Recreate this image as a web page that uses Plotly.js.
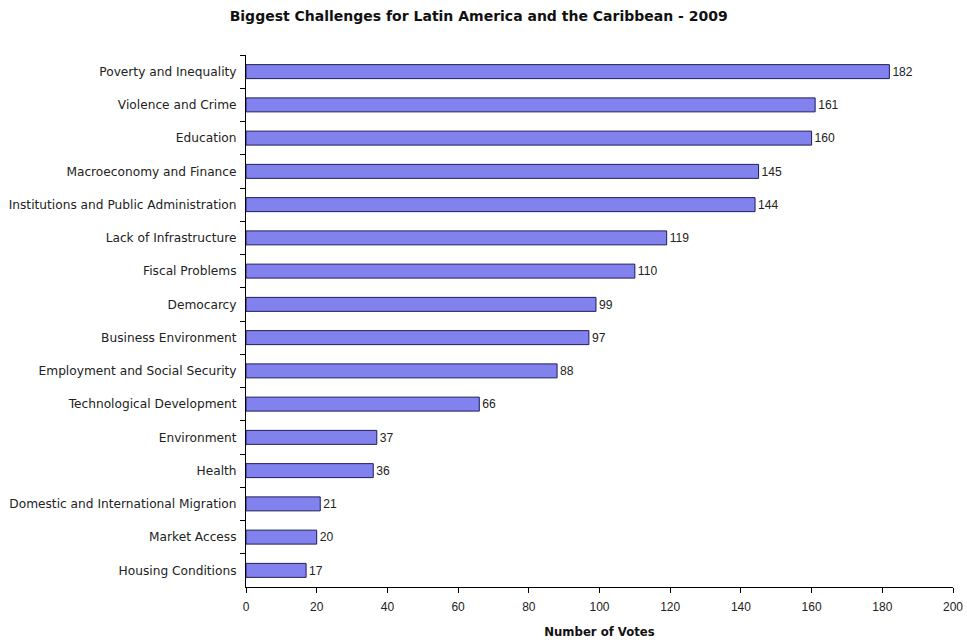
<!DOCTYPE html>
<html>
<head>
<meta charset="utf-8">
<script src="https://cdn.plot.ly/plotly-3.0.1.min.js"></script>
<style>html,body{margin:0;padding:0;background:#fff;}#chart{width:967px;height:644px;}</style>
</head>
<body>
<div id="chart"></div>
<script>
const categories = [
  "Poverty and Inequality",
  "Violence and Crime",
  "Education",
  "Macroeconomy and Finance",
  "Institutions and Public Administration",
  "Lack of Infrastructure",
  "Fiscal Problems",
  "Democarcy",
  "Business Environment",
  "Employment and Social Security",
  "Technological Development",
  "Environment",
  "Health",
  "Domestic and International Migration",
  "Market Access",
  "Housing Conditions"
];
const votes = [182, 161, 160, 145, 144, 119, 110, 99, 97, 88, 66, 37, 36, 21, 20, 17];
const xTicks = [0, 20, 40, 60, 80, 100, 120, 140, 160, 180, 200];

const trace = {
  type: 'bar',
  orientation: 'h',
  y: categories,
  x: votes,
  text: votes.map(String),
  textposition: 'outside',
  cliponaxis: false,
  textfont: {family: 'Arial, Liberation Sans, sans-serif', size: 13, color: '#222'},
  marker: {color: '#8282ef', line: {color: '#1c1c5c', width: 1}},
  hoverinfo: 'none'
};

const layout = {
  width: 967, height: 644,
  margin: {l: 246, r: 14, t: 55, b: 57},
  paper_bgcolor: '#fff', plot_bgcolor: '#fff',
  bargap: 0.58,
  showlegend: false,
  title: {
    text: 'Biggest Challenges for Latin America and the Caribbean - 2009',
    font: {family: 'DejaVu Sans, sans-serif', size: 14, color: '#111', weight: 'bold'},
    x: 0.495, xanchor: 'center', y: 0.975, yanchor: 'middle'
  },
  xaxis: {
    range: [0, 200],
    tickvals: xTicks,
    ticktext: xTicks.map(String),
    ticks: 'outside', ticklen: 5, tickcolor: '#000', tickwidth: 1,
    showline: true, linecolor: '#000', linewidth: 1,
    showgrid: false, zeroline: false,
    tickfont: {family: 'Arial, Liberation Sans, sans-serif', size: 12, color: '#222'},
    ticklabelstandoff: 4,
    title: {text: 'Number of Votes', standoff: 14,
      font: {family: 'DejaVu Sans, sans-serif', size: 11.7, color: '#111', weight: 'bold'}},
    fixedrange: true
  },
  yaxis: {
    autorange: 'reversed',
    type: 'category',
    ticks: 'outside', ticklen: 5, tickcolor: '#000', tickwidth: 1,
    tickson: 'boundaries',
    showline: true, linecolor: '#000', linewidth: 1,
    showgrid: false, zeroline: false,
    tickfont: {family: 'DejaVu Sans, sans-serif', size: 12.2, color: '#222'},
    ticklabelstandoff: 6,
    fixedrange: true
  }
};

Plotly.newPlot('chart', [trace], layout, {displayModeBar: false, staticPlot: true});
</script>
</body>
</html>
